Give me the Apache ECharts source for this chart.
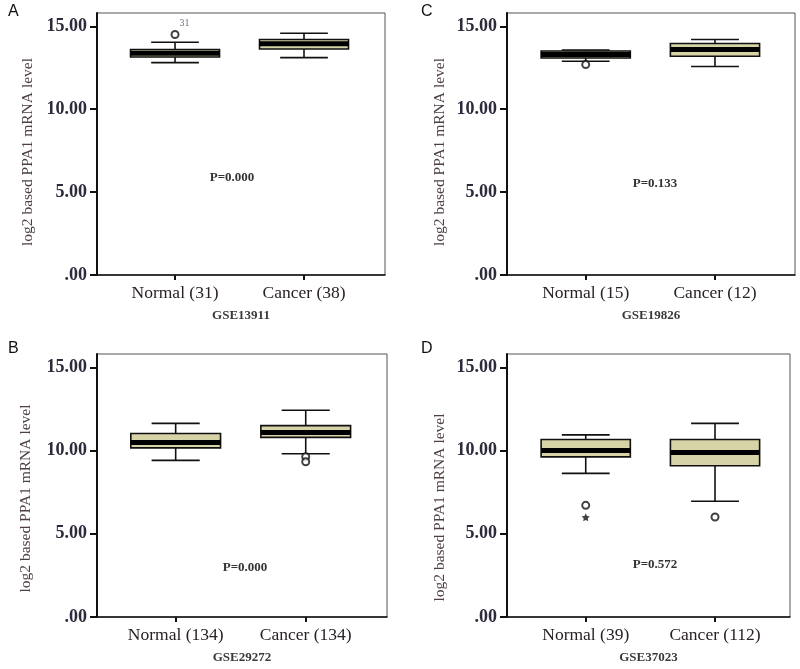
<!DOCTYPE html>
<html>
<head>
<meta charset="utf-8">
<script src="https://cdn.jsdelivr.net/npm/echarts@6/dist/echarts.min.js"></script>
<style>html,body{margin:0;padding:0;background:#fff;}#chart{width:800px;height:669px;}</style>
</head>
<body>
<div id="chart"></div>
<script>
// ---- data ----
const yTicks = [0, 5, 10, 15];
const yName = 'log2 based PPA1 mRNA level';

const categoriesA = ['Normal (31)', 'Cancer (38)'];
const boxA = [[12.81, 13.15, 13.38, 13.6, 14.04], [13.11, 13.63, 13.95, 14.2, 14.58]];
const outliersA = [[0, 14.5, '31']];
const starsA = [];

const categoriesC = ['Normal (15)', 'Cancer (12)'];
const boxC = [[12.89, 13.09, 13.3, 13.51, 13.57], [12.57, 13.19, 13.6, 13.96, 14.2]];
const outliersC = [[0, 12.69, '']];
const starsC = [];

const categoriesB = ['Normal (134)', 'Cancer (134)'];
const boxB = [[9.41, 10.16, 10.49, 11.02, 11.63], [9.81, 10.79, 11.09, 11.5, 12.42]];
const outliersB = [[1, 9.63, ''], [1, 9.33, '']];
const starsB = [];

const categoriesD = ['Normal (39)', 'Cancer (112)'];
const boxD = [[8.63, 9.62, 10.01, 10.66, 10.94], [6.95, 9.09, 9.89, 10.66, 11.63]];
const outliersD = [[0, 6.71, ''], [1, 6.01, '']];
const starsD = [[0, 5.99]];

const datasetNames = ['GSE13911', 'GSE19826', 'GSE29272', 'GSE37023'];
const pValues = ['P=0.000', 'P=0.133', 'P=0.000', 'P=0.572'];
const panelLetters = ['A', 'C', 'B', 'D'];

// ---- layout ----
const panels = [
  {cats: categoriesA, box: boxA, out: outliersA, star: starsA, grid: {left: 97, top: 13, width: 288, height: 262}, xr: [-0.605, 1.628], p: [232, 178], letter: [8, 4], ng: 61, shift: 8},
  {cats: categoriesC, box: boxC, out: outliersC, star: starsC, grid: {left: 507, top: 13, width: 288, height: 262}, xr: [-0.609, 1.619], p: [655, 184], letter: [421, 4], ng: 59, shift: 8},
  {cats: categoriesB, box: boxB, out: outliersB, star: starsB, grid: {left: 97, top: 354, width: 290, height: 263}, xr: [-0.605, 1.625], p: [245, 568], letter: [8, 341], ng: 63, shift: 13},
  {cats: categoriesD, box: boxD, out: outliersD, star: starsD, grid: {left: 507, top: 354, width: 283, height: 263}, xr: [-0.609, 1.58], p: [655, 565], letter: [421, 341], ng: 59, shift: 22}
];

const SERIF = '"Liberation Serif", "Times New Roman", serif';
const SANS = '"Liberation Sans", Arial, sans-serif';

function renderBox(params, api) {
  const x = api.value(0);
  const pMin = api.coord([x, api.value(1)]);
  const pQ1 = api.coord([x, api.value(2)]);
  const pMed = api.coord([x, api.value(3)]);
  const pQ3 = api.coord([x, api.value(4)]);
  const pMax = api.coord([x, api.value(5)]);
  const unit = api.size([1, 0])[0];
  const cx = pMin[0];
  const bw = unit * 0.69;
  const cw = unit * 0.37;
  const ls = {stroke: '#111', lineWidth: 1.6};
  return {
    type: 'group',
    children: [
      {type: 'line', shape: {x1: cx, y1: pMax[1], x2: cx, y2: pQ3[1]}, style: ls},
      {type: 'line', shape: {x1: cx, y1: pQ1[1], x2: cx, y2: pMin[1]}, style: ls},
      {type: 'line', shape: {x1: cx - cw / 2, y1: pMax[1], x2: cx + cw / 2, y2: pMax[1]}, style: ls},
      {type: 'line', shape: {x1: cx - cw / 2, y1: pMin[1], x2: cx + cw / 2, y2: pMin[1]}, style: ls},
      {type: 'rect', shape: {x: cx - bw / 2, y: pQ3[1], width: bw, height: pQ1[1] - pQ3[1]},
        style: {fill: '#d6d3a6', stroke: '#111', lineWidth: 1.6}},
      {type: 'line', shape: {x1: cx - bw / 2, y1: pMed[1], x2: cx + bw / 2, y2: pMed[1]},
        style: {stroke: '#000', lineWidth: 5}}
    ]
  };
}

const grids = [], xAxes = [], yAxes = [], series = [], graphics = [];

panels.forEach(function (pn, i) {
  grids.push(Object.assign({show: true, borderColor: '#555', borderWidth: 1, containLabel: false, outerBoundsMode: 'none'}, pn.grid));
  xAxes.push({
    type: 'value', gridIndex: i, min: pn.xr[0], max: pn.xr[1],
    name: datasetNames[i], nameLocation: 'middle', nameGap: 34,
    nameTextStyle: {fontFamily: SERIF, fontSize: 13, fontWeight: 'bold', color: '#3a3a3a'},
    axisLine: {show: true, onZero: false, lineStyle: {color: '#111', width: 1.5}},
    axisTick: {show: true, length: 5, lineStyle: {color: '#111', width: 2}, customValues: [0, 1]},
    axisLabel: {customValues: [0, 1], margin: 9, fontFamily: SERIF, fontSize: 17.5, color: '#2a2222',
      formatter: function (v) { return pn.cats[Math.round(v)]; }},
    splitLine: {show: false}
  });
  yAxes.push({
    type: 'value', gridIndex: i, min: 0, max: 15.8,
    name: yName, nameLocation: 'middle', nameGap: pn.ng, nameRotate: 90,
    nameTextStyle: {fontFamily: SERIF, fontSize: 15.5, color: '#4e4040', padding: [0, pn.shift * 2, 0, 0]},
    axisLine: {show: true, onZero: false, lineStyle: {color: '#111', width: 2}},
    axisTick: {show: true, length: 7, lineStyle: {color: '#111', width: 2}, customValues: yTicks},
    axisLabel: {customValues: yTicks, margin: 10, fontFamily: SERIF, fontSize: 18, fontWeight: 'bold', color: '#2b2b3b',
      formatter: function (v) { return v === 0 ? '.00' : v.toFixed(2); }},
    splitLine: {show: false}
  });
  series.push({
    type: 'custom', xAxisIndex: i, yAxisIndex: i,
    data: pn.box.map(function (b, k) { return [k].concat(b); }),
    encode: {x: 0, y: [1, 2, 3, 4, 5]},
    renderItem: renderBox, silent: true, z: 3
  });
  series.push({
    type: 'scatter', xAxisIndex: i, yAxisIndex: i,
    data: pn.out.map(function (o) { return {value: [o[0], o[1]], name: o[2]}; }),
    symbol: 'emptyCircle', symbolSize: 7,
    itemStyle: {color: '#111', borderColor: '#111', borderWidth: 2},
    label: {show: true, position: [9, -12], formatter: function (p) { return p.name; },
      fontFamily: SERIF, fontSize: 10, color: '#4a4a66'},
    silent: true, z: 4
  });
  if (pn.star.length) {
    series.push({
      type: 'scatter', xAxisIndex: i, yAxisIndex: i,
      data: pn.star,
      symbol: 'path://M0,-10 L2.9,-4 9.5,-3.1 4.8,1.5 5.9,8.1 0,5 -5.9,8.1 -4.8,1.5 -9.5,-3.1 -2.9,-4 Z',
      symbolSize: 8, itemStyle: {color: '#111'}, silent: true, z: 4
    });
  }
  graphics.push({type: 'text', left: pn.letter[0], top: pn.letter[1],
    style: {text: panelLetters[i], font: '16px ' + SANS, fill: '#111'}});
  graphics.push({type: 'text', x: pn.p[0], y: pn.p[1],
    style: {text: pValues[i], font: 'bold 13px ' + SERIF, fill: '#333', align: 'center', verticalAlign: 'middle'}});
});

const chart = echarts.init(document.getElementById('chart'), null, {renderer: 'canvas'});
chart.setOption({
  backgroundColor: '#fff',
  animation: false,
  grid: grids,
  xAxis: xAxes,
  yAxis: yAxes,
  series: series,
  graphic: graphics
});
</script>
</body>
</html>
